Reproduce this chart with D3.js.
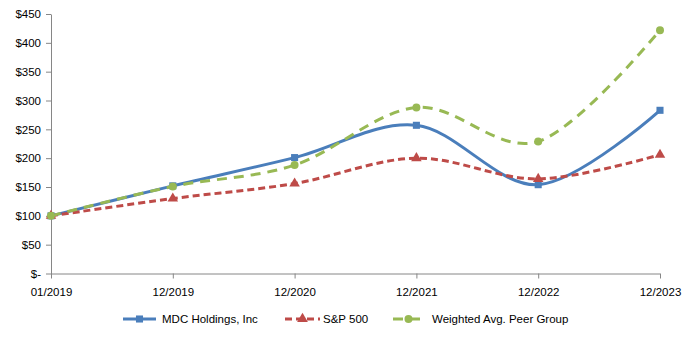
<!DOCTYPE html>
<html>
<head>
<meta charset="utf-8">
<script src="https://cdn.jsdelivr.net/npm/d3@7"></script>
<style>
  html, body { margin: 0; padding: 0; background: #fff; }
  svg { display: block; font-family: "Liberation Sans", Arial, sans-serif; }
  .axis text { fill: #000; font-size: 11.5px; }
  .axis path, .axis line { stroke: #868686; }
</style>
</head>
<body>
<svg id="chart" width="698" height="338"></svg>
<script>
// Cumulative total return of a $100 investment
const periods = ["01/2019", "12/2019", "12/2020", "12/2021", "12/2022", "12/2023"];
const mdcValues = [100, 152, 201, 257, 154, 283];
const spValues = [100, 130, 156, 200, 164, 206];
const peerValues = [100, 151, 188, 288, 229, 422];
const yTicks = [0, 50, 100, 150, 200, 250, 300, 350, 400, 450];

const series = [
  { name: "MDC Holdings, Inc", values: mdcValues, color: "#4A7EBB", dash: null, marker: "square" },
  { name: "S&P 500", values: spValues, color: "#BE4B48", dash: "7,4", marker: "triangle" },
  { name: "Weighted Avg. Peer Group", values: peerValues, color: "#98B954", dash: "10,7", marker: "circle" }
];

const svg = d3.select("#chart");
const plotLeft = 51, plotRight = 660, plotTop = 14, plotBottom = 273.5;

const x = d3.scalePoint().domain(periods).range([plotLeft, plotRight]);
const y = d3.scaleLinear().domain([0, 450]).range([plotBottom, plotTop]);

// Y axis
const yAxis = svg.append("g").attr("class", "axis")
  .attr("transform", `translate(${plotLeft},0)`)
  .call(d3.axisLeft(y).tickValues(yTicks).tickSize(5).tickSizeOuter(0)
    .tickFormat(d => d === 0 ? "$-" : "$" + d));
yAxis.selectAll("text").attr("dx", "-2");

// X axis
const xAxis = svg.append("g").attr("class", "axis")
  .attr("transform", `translate(0,${plotBottom})`)
  .call(d3.axisBottom(x).tickSize(5).tickSizeOuter(0));
xAxis.select(".domain").attr("d", `M${plotLeft},0.5H${plotRight}`);
xAxis.selectAll("text").attr("dy", "1.25em");

const line = d3.line()
  .x((d, i) => x(periods[i]))
  .y(d => y(d))
  .curve(d3.curveCatmullRom.alpha(0));

const symbolFor = m => m === "square" ? d3.symbolSquare : m === "triangle" ? d3.symbolTriangle : d3.symbolCircle;

series.forEach(s => {
  svg.append("path")
    .datum(s.values)
    .attr("fill", "none")
    .attr("stroke", s.color)
    .attr("stroke-width", 3)
    .attr("stroke-dasharray", s.dash)
    .attr("d", line);
});

series.forEach(s => {
  svg.append("g").selectAll("path")
    .data(s.values)
    .join("path")
    .attr("transform", (d, i) => `translate(${x(periods[i])},${y(d)})`)
    .attr("d", d3.symbol().type(symbolFor(s.marker)).size(s.marker === "triangle" ? 48 : 50))
    .attr("fill", s.color);
});

// Legend
const legendY = 319;
const legendItems = [
  { s: series[0], x0: 123, x1: 156, tx: 162 },
  { s: series[1], x0: 285, x1: 320, tx: 323 },
  { s: series[2], x0: 393, x1: 424, tx: 432 }
];
const legend = svg.append("g");
legendItems.forEach(it => {
  legend.append("line")
    .attr("x1", it.x0).attr("x2", it.x1)
    .attr("y1", legendY).attr("y2", legendY)
    .attr("stroke", it.s.color).attr("stroke-width", 3)
    .attr("stroke-dasharray", it.s.dash);
  legend.append("path")
    .attr("transform", `translate(${(it.x0 + it.x1) / 2},${legendY})`)
    .attr("d", d3.symbol().type(symbolFor(it.s.marker)).size(50))
    .attr("fill", it.s.color);
  legend.append("text")
    .attr("x", it.tx).attr("y", legendY)
    .attr("dy", "0.35em")
    .attr("font-size", "11.5px")
    .text(it.s.name);
});
</script>
</body>
</html>
